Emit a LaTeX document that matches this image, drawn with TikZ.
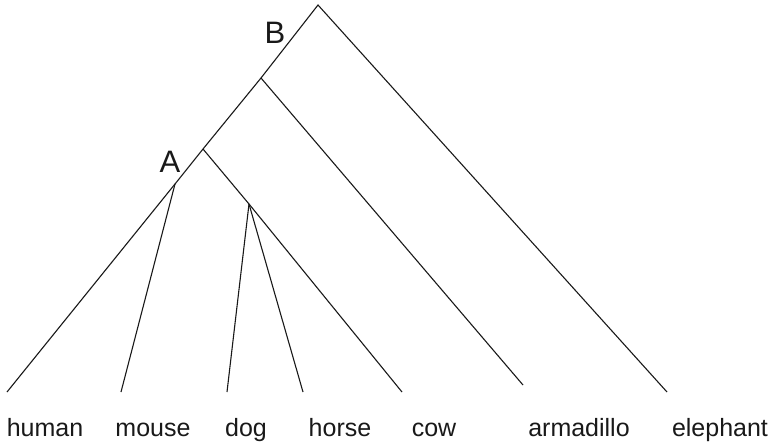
\documentclass[tikz,border=0pt]{standalone}
\usepackage{fontspec}
\setmainfont{Liberation Sans}
\begin{document}
\begin{tikzpicture}[x=1pt,y=-1pt,
  branch/.style={draw=black!90,line width=1.1pt},
  leaflabel/.style={font=\fontsize{25}{30}\selectfont,text=black!90,inner sep=0pt,anchor=base},
  nodelabel/.style={font=\fontsize{31}{36}\selectfont,text=black!90,inner sep=0pt}]
\useasboundingbox (0,0) rectangle (772,445);
% internal nodes
\coordinate (root) at (318,5);
\coordinate (nB) at (261,78);
\coordinate (nA) at (203,149);
\coordinate (hm) at (175,184);
\coordinate (dh) at (249,204);
% leaf ends
\coordinate (human) at (7,392);
\coordinate (mouse) at (121,392);
\coordinate (dog) at (227,392);
\coordinate (horse) at (303,392);
\coordinate (cow) at (402,392);
\coordinate (armadillo) at (523,385);
\coordinate (elephant) at (667,392);
% branches
\draw[branch] (human) -- (hm) -- (nA) -- (nB) -- (root) -- (elephant);
\draw[branch] (hm) -- (mouse);
\draw[branch] (nA) -- (dh) -- (cow);
\draw[branch] (dh) -- (dog);
\draw[branch] (dh) -- (horse);
\draw[branch] (nB) -- (armadillo);
% labels
\node[nodelabel] (labB) at (275,33) {B};
\node[nodelabel] (labA) at (170,162) {A};
\node[leaflabel] (thuman) at (45,436) {human};
\node[leaflabel] (tmouse) at (153,436) {mouse};
\node[leaflabel] (tdog) at (246,436) {dog};
\node[leaflabel] (thorse) at (340,436) {horse};
\node[leaflabel] (tcow) at (434,436) {cow};
\node[leaflabel] (tarmadillo) at (579,436) {armadillo};
\node[leaflabel] (telephant) at (720,436) {elephant};
\end{tikzpicture}
\end{document}
